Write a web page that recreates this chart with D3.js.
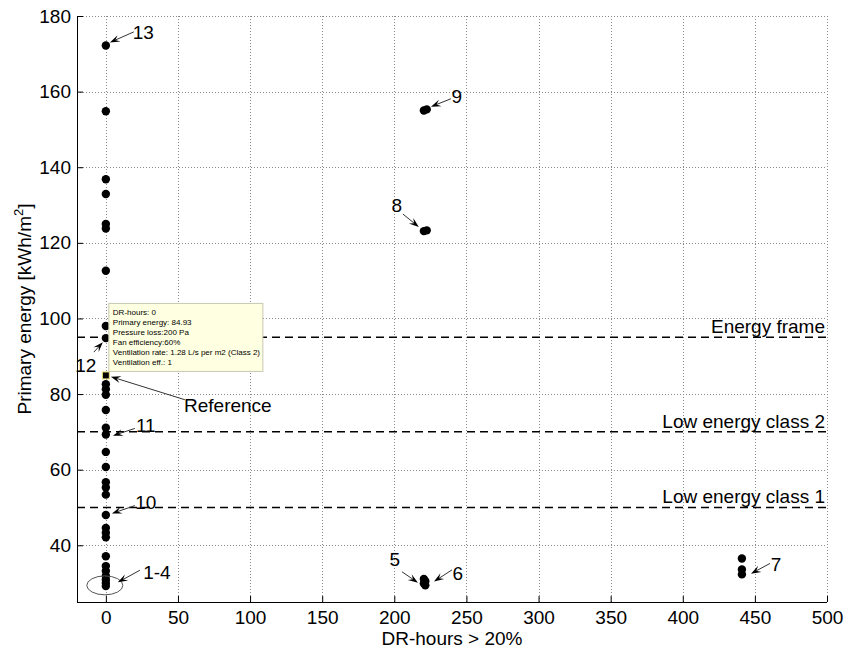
<!DOCTYPE html>
<meta charset="utf-8">
<style>
    body { margin: 0; background: #fff; }
    svg text { font-family: 'Liberation Sans', Arial, sans-serif; fill: #000; }
    .grid line { stroke: #8a8a8a; stroke-width: 1; stroke-dasharray: 1,2; }
    .axis path, .axis line { stroke: #000; }
</style>
<svg width="845" height="648"></svg>
<script src="https://cdn.jsdelivr.net/npm/d3@7/dist/d3.min.js"></script>
<script>
    // ticks
    var xTicks = [0, 50, 100, 150, 200, 250, 300, 350, 400, 450, 500];
    var yTicks = [40, 60, 80, 100, 120, 140, 160, 180];

    // simulated cases: DR-hours vs primary energy
    var caseX = [0, 0, 0, 0, 0, 0, 0, 0, 0,
                 0, 0, 0, 0, 0, 0, 0, 0, 0, 0, 0, 0, 0, 0, 0, 0, 0, 0, 0, 0, 0, 0,
                 220.5, 222.5, 220.5, 222.5,
                 220.5, 221.5, 220.5, 221.5,
                 441, 441, 441];
    var caseY = [172.2, 154.8, 136.8, 132.9, 125.0, 123.8, 112.6, 98.0, 94.8,
                 82.6, 81.3, 79.8, 75.8, 71.1, 69.3, 64.7, 60.7, 56.7, 55.3, 53.4,
                 48.0, 44.6, 43.3, 42.1, 37.1, 34.5, 33.2, 31.9, 30.9, 30.0, 29.2,
                 155.0, 155.3, 123.1, 123.3,
                 31.1, 30.5, 29.9, 29.4,
                 36.5, 33.6, 32.3];

    // reference case (data tip)
    var refX = 0, refY = 84.93;
    var tipLines = ["DR-hours: 0", "Primary energy: 84.93", "Pressure loss:200 Pa",
                    "Fan efficiency:60%", "Ventilation rate: 1.28 L/s per m2 (Class 2)", "Ventilation eff.: 1"];

    // energy limits
    var limitNames = ["Energy frame", "Low energy class 2", "Low energy class 1"];
    var limitValues = [95, 70, 50];

    // numbered notes (data units)
    var noteLabels = ["13", "9", "8", "5", "6", "7", "12", "Reference", "11", "10", "1-4"];
    var noteTextX = [26, 243.4, 201.8, 200.4, 244.1, 464.6, -13.9, 84.6, 27.7, 27.7, 35.4];
    var noteTextY = [175.8, 158.9, 130.0, 36.4, 32.5, 34.9, 87.6, 77.1, 71.7, 51.3, 32.8];
    var noteTailX = [19.4, 239.2, 206, 205.3, 240, 460.5, -8.3, 54.8, 20.1, 20.1, 23.6];
    var noteTailY = [175.8, 158.1, 127.6, 33.0, 33.5, 35.2, 91.1, 78.5, 70.9, 50.5, 33.4];
    var noteTipX = [2.8, 225.4, 217, 216.4, 227.5, 447.3, -2.1, 3.5, 4.9, 4.2, 8.3];
    var noteTipY = [173.0, 156.0, 124.2, 30.1, 30.4, 32.5, 93.7, 84.6, 69.0, 48.4, 30.2];

    var svg = d3.select("svg"),
        margin = { top: 16, right: 18, bottom: 46, left: 77 },
        width = +svg.attr("width") - margin.left - margin.right,
        height = +svg.attr("height") - margin.top - margin.bottom,
        g = svg.append("g").attr("transform", "translate(" + margin.left + "," + margin.top + ")");

    var x = d3.scaleLinear().domain([-20, 500]).range([0, width]);
    var y = d3.scaleLinear().domain([25, 180]).range([height, 0]);

    // grid
    g.append("g").attr("class", "grid")
        .selectAll("line").data(xTicks).enter().append("line")
        .attr("x1", function (d) { return Math.round(x(d)) + 0.5; })
        .attr("x2", function (d) { return Math.round(x(d)) + 0.5; })
        .attr("y1", 0).attr("y2", height);
    g.append("g").attr("class", "grid")
        .selectAll("line").data(yTicks).enter().append("line")
        .attr("y1", function (d) { return Math.round(y(d)) + 0.5; })
        .attr("y2", function (d) { return Math.round(y(d)) + 0.5; })
        .attr("x1", 0).attr("x2", width);

    // limit lines
    g.selectAll(".limit").data(limitValues).enter().append("line")
        .attr("class", "limit")
        .attr("x1", 0).attr("x2", width)
        .attr("y1", function (d) { return y(d); })
        .attr("y2", function (d) { return y(d); })
        .attr("stroke", "#000").attr("stroke-width", 1.5)
        .attr("stroke-dasharray", "8,5");
    g.selectAll(".limitText").data(limitValues).enter().append("text")
        .attr("class", "limitText")
        .attr("x", width - 2)
        .attr("y", function (d) { return y(d) - 4; })
        .attr("text-anchor", "end")
        .attr("font-size", 19)
        .text(function (d, i) { return limitNames[i]; });

    // axes
    var xAxis = g.append("g").attr("class", "axis")
        .attr("transform", "translate(0," + height + ")")
        .call(d3.axisBottom(x).tickValues(xTicks).tickSizeInner(-6).tickSizeOuter(0).tickPadding(9));
    var yAxis = g.append("g").attr("class", "axis")
        .call(d3.axisLeft(y).tickValues(yTicks).tickSizeInner(-6).tickSizeOuter(0).tickPadding(6));
    xAxis.select(".domain").attr("d", "M0,0.5H" + width);
    yAxis.select(".domain").attr("d", "M0.5,0V" + height);
    xAxis.selectAll("text").attr("font-size", 19).attr("font-family", null);
    yAxis.selectAll("text").attr("font-size", 19).attr("font-family", null);

    // axis titles
    svg.append("text")
        .attr("x", margin.left + width / 2)
        .attr("y", 645)
        .attr("text-anchor", "middle")
        .attr("font-size", 19)
        .text("DR-hours > 20%");
    var yt = svg.append("text")
        .attr("transform", "translate(31," + (margin.top + height / 2) + ") rotate(-90)")
        .attr("text-anchor", "middle")
        .attr("font-size", 19);
    yt.append("tspan").text("Primary energy [kWh/m");
    yt.append("tspan").attr("font-size", 13).attr("dy", -8).text("2");
    yt.append("tspan").attr("dy", 8).text("]");

    // points
    g.selectAll(".case").data(caseX).enter().append("circle")
        .attr("class", "case")
        .attr("cx", function (d) { return x(d); })
        .attr("cy", function (d, i) { return y(caseY[i]); })
        .attr("r", 4.2)
        .attr("fill", "#000");

    // reference marker
    g.append("rect")
        .attr("x", x(refX) - 3.5).attr("y", y(refY) - 3.5)
        .attr("width", 7).attr("height", 7)
        .attr("fill", "#000").attr("stroke", "#f2e27a").attr("stroke-width", 1);

    // circle around 1-4
    g.append("ellipse")
        .attr("cx", x(-0.7)).attr("cy", y(29.4))
        .attr("rx", x(12.5) - x(0)).attr("ry", y(25) - y(27.5))
        .attr("fill", "none").attr("stroke", "#555").attr("stroke-width", 1);

    // notes with arrows
    function head(tx, ty, ang) {
        var L = 10, W = 7, b = 6;
        var pts = [[0, 0], [-L, -W / 2], [-b, 0], [-L, W / 2]];
        var c = Math.cos(ang), s = Math.sin(ang);
        return "M" + pts.map(function (p) {
            return (tx + p[0] * c - p[1] * s) + "," + (ty + p[0] * s + p[1] * c);
        }).join("L") + "Z";
    }
    noteLabels.forEach(function (lab, i) {
        var x0 = x(noteTailX[i]), y0 = y(noteTailY[i]), x1 = x(noteTipX[i]), y1 = y(noteTipY[i]);
        var ang = Math.atan2(y1 - y0, x1 - x0);
        g.append("line")
            .attr("x1", x0).attr("y1", y0)
            .attr("x2", x1 - 6 * Math.cos(ang)).attr("y2", y1 - 6 * Math.sin(ang))
            .attr("stroke", "#333").attr("stroke-width", 1);
        g.append("path").attr("d", head(x1, y1, ang)).attr("fill", "#000");
        g.append("text")
            .attr("x", x(noteTextX[i])).attr("y", y(noteTextY[i]))
            .attr("dy", "0.36em")
            .attr("text-anchor", "middle")
            .attr("font-size", 19)
            .text(lab);
    });

    // data tip box
    var bx = x(refX) + 3, by = y(refY) - 72;
    var tip = g.append("g").attr("transform", "translate(" + bx + "," + by + ")");
    tip.append("rect")
        .attr("width", 154).attr("height", 68)
        .attr("fill", "#ffffe1").attr("stroke", "#c8c8b4").attr("stroke-width", 1);
    tip.selectAll("text").data(tipLines).enter().append("text")
        .attr("x", 4)
        .attr("y", function (d, i) { return 12 + i * 10; })
        .attr("font-size", 8)
        .text(function (d) { return d; });
</script>
